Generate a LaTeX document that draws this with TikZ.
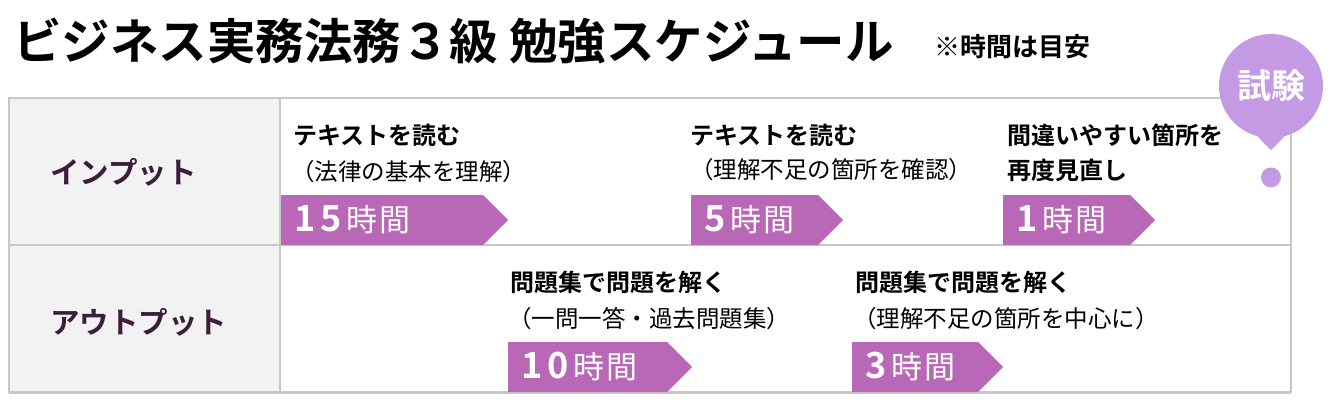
\documentclass[tikz,border=0pt]{standalone}
\usepackage{fontspec}
\setmainfont{Noto Sans CJK JP}[BoldFont={Noto Sans CJK JP Bold}]
\newfontfamily\hoursfont{Noto Sans CJK JP Bold}[LetterSpace=14]
\newfontfamily\unitfont{Noto Sans CJK JP}[LetterSpace=6]
\usetikzlibrary{positioning, shapes.symbols}

\definecolor{tagpurple}{HTML}{B968B7}
\definecolor{exampurple}{HTML}{C39AE3}
\definecolor{labelpurple}{HTML}{3B1E3B}
\definecolor{gridgray}{HTML}{C8C8C8}
\definecolor{headfill}{HTML}{F2F2F2}

\newcommand{\hrs}[1]{{\hoursfont\fontsize{36}{38}\selectfont #1}\hspace{5pt}{\unitfont\fontsize{31}{33}\selectfont 時間}}

\begin{document}
\begin{tikzpicture}[
    x=1pt, y=-1pt,
    every node/.style={inner sep=0pt},
    headline/.style={anchor=west, font=\bfseries\fontsize{48.5}{52}\selectfont},
    note/.style={font=\bfseries\fontsize{26}{30}\selectfont},
    rowlabel/.style={anchor=west, text=labelpurple, font=\bfseries\fontsize{29.5}{32}\selectfont},
    task/.style={anchor=west, font=\bfseries\fontsize{24}{28}\selectfont},
    detail/.style={anchor=west, font=\fontsize{23.5}{27}\selectfont},
    hourtag/.style={shape=signal, signal to=east, signal pointer angle=90, fill=tagpurple, text=white, minimum height=50pt, inner xsep=13pt, text width=#1, align=left, anchor=west},
    exam/.style={circle, fill=exampurple, text=white, minimum size=104pt, font=\bfseries\fontsize{34}{38}\selectfont},
    tableline/.style={draw=gridgray, line width=1.5pt}
]
    \useasboundingbox (0,0) rectangle (1331,405);

    % Heading
    \node[headline] (title) at (13,41) {ビジネス実務法務３級 勉強スケジュール};
    \node[note, right=40pt of title, yshift=-6pt] (note) {※時間は目安};

    % Table
    \fill[headfill] (9,98) rectangle (280,392);
    \draw[tableline] (9,98) rectangle (1291,392);
    \draw[tableline] (280,98) -- (280,392);
    \draw[tableline] (9,245) -- (1291,245);
    \draw[draw=gridgray, line width=3pt] (9,392) -- (1291,392);

    \node[rowlabel] (inputlbl) at (50,172) {インプット};
    \node[rowlabel] (outputlbl) at (50,322) {アウトプット};

    % Input row
    \node[task] (read1) at (293,135) {テキストを読む};
    \node[detail] (read1sub) at (291,172) {（法律の基本を理解）};
    \node[hourtag=176pt] (hours15) at (281,220) {\hrs{15}};

    \node[task] (read2) at (690,135) {テキストを読む};
    \node[detail] (read2sub) at (690,170) {（理解不足の箇所を確認）};
    \node[hourtag=101pt] (hours5) at (691,220) {\hrs{5}};

    \node[task] (review) at (1007,135) {間違いやすい箇所を};
    \node[task] (reviewsub) at (1007,170) {再度見直し};
    \node[hourtag=101pt] (hours1) at (1003,220) {\hrs{1}};

    % Output row
    \node[task] (drill1) at (510,282) {問題集で問題を解く};
    \node[detail] (drill1sub) at (508,319) {（一問一答・過去問題集）};
    \node[hourtag=133pt] (hours10) at (508,367) {\hrs{10}};

    \node[task] (drill2) at (855,282) {問題集で問題を解く};
    \node[detail] (drill2sub) at (853,319) {（理解不足の箇所を中心に）};
    \node[hourtag=100pt] (hours3) at (852,367) {\hrs{3}};

    % Exam marker
    \node[exam] (exam) at (1271,86) {試験};
    \fill[exampurple] (exam.-105) -- (exam.-75) -- ([yshift=-12pt]exam.south) -- cycle;
    \node[circle, fill=exampurple, minimum size=20pt, below=29pt of exam] (examdot) {};
\end{tikzpicture}
\end{document}
